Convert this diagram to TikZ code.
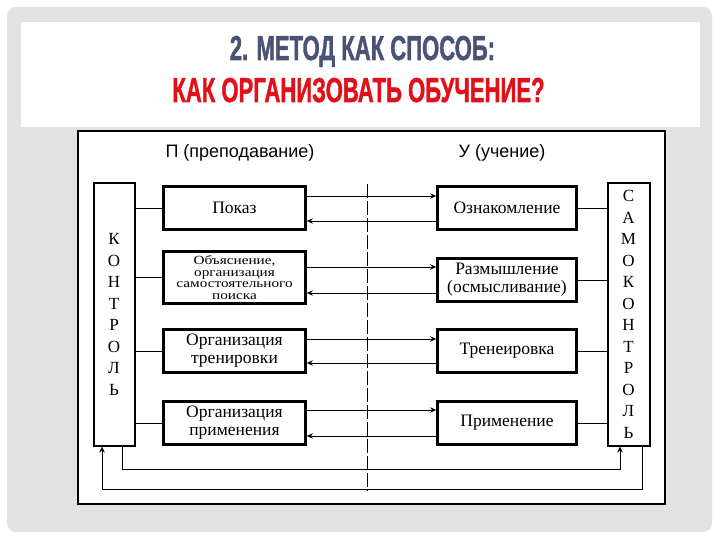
\documentclass[tikz,border=0pt]{standalone}
\usepackage{fontspec}
\setmainfont{Liberation Serif}
\newfontfamily\sansf{Liberation Sans}
\newfontfamily\titlef[BoldFeatures={FakeBold=1.6}]{Liberation Sans}
\newfontfamily\boxsmall[FakeStretch=1.22]{Liberation Serif}
\usetikzlibrary{arrows.meta}
\definecolor{slidegray}{HTML}{E2E2E2}
\definecolor{titleblue}{HTML}{4A5276}
\definecolor{titlered}{HTML}{E3101A}
\tikzset{
  proc/.style={draw, line width=2.8pt, inner sep=0pt, align=center,
    font=\fontsize{17.5}{18}\selectfont},
  lproc/.style={proc, minimum width=142pt, minimum height=43pt},
  rproc/.style={proc, minimum width=139pt, minimum height=43pt},
  ctrl/.style={draw, line width=2pt, inner sep=0pt, align=center,
    minimum height=262pt, font=\fontsize{17}{21.5}\selectfont},
  conn/.style={line width=0.8pt},
  arr/.style={conn, -{Stealth[length=6pt,width=5.5pt,inset=2pt]}},
  head/.style={font=\sansf\fontsize{18}{20}\selectfont, inner sep=0pt},
  ttl/.style={font=\titlef\bfseries\fontsize{32}{32}\selectfont, inner sep=0pt, anchor=base}
}
\begin{document}
\begin{tikzpicture}[x=1pt,y=-1pt]
\useasboundingbox (0,0) rectangle (720,540);
\fill[white] (0,0) rectangle (720,540);
\fill[slidegray, rounded corners=9pt] (7,7) rectangle (712,532);
\fill[white] (21,22) rectangle (700,127);
\draw[line width=2.4pt, fill=white] (78,131) rectangle (665,504);

\node[ttl, text=titleblue] (t1) at (362.5,60) {\scalebox{0.69}[1.08]{2. МЕТОД КАК СПОСОБ:}};
\node[ttl, text=titlered] (t2) at (358.5,102) {\scalebox{0.69}[1.08]{КАК ОРГАНИЗОВАТЬ ОБУЧЕНИЕ?}};

\node[head] (hp) at (240,153) {П (преподавание)};
\node[head] (hu) at (502,153) {У (учение)};

\coordinate (dtop) at (367,184);
\coordinate (dbot) at (367,491);
\draw[conn, dash pattern=on 14pt off 3pt] (dtop) -- (dbot);

\node[ctrl, minimum width=41pt] (KL) at (114,314.5) {К\\О\\Н\\Т\\Р\\О\\Л\\Ь};
\node[ctrl, minimum width=42pt] (KR) at (628.5,314.5) {С\\А\\М\\О\\К\\О\\Н\\Т\\Р\\О\\Л\\Ь};

\node[lproc] (L1) at (234.5,208) {Показ};
\node[lproc, minimum height=52pt, font=\boxsmall\fontsize{12.5}{11.8}\selectfont] (L2) at (234.5,277.5)
  {Объяснение,\\организация\\самостоятельного\\поиска};
\node[lproc] (L3) at (234.5,351) {Организация\\тренировки};
\node[lproc] (L4) at (234.5,423) {Организация\\применения};

\node[rproc] (R1) at (507,208) {Ознакомление};
\node[rproc] (R2) at (507,280) {Размышление\\(осмысливание)};
\node[rproc] (R3) at (507,351) {Тренеировка};
\node[rproc] (R4) at (507,423) {Применение};

% control links
\draw[conn] (KL.east |- L1) -- (L1.west);
\draw[conn] (KL.east |- L2) -- (L2.west);
\draw[conn] (KL.east |- L3) -- (L3.west);
\draw[conn] (KL.east |- L4) -- (L4.west);
\draw[conn] (R1.east) -- (KR.west |- R1);
\draw[conn] (R2.east) -- (KR.west |- R2);
\draw[conn] (R3.east) -- (KR.west |- R3);
\draw[conn] (R4.east) -- (KR.west |- R4);

% forward and backward
\draw[arr] (L1.east |- 0,196) -- (R1.west |- 0,196);
\draw[arr] (R1.west |- 0,221) -- (L1.east |- 0,221);
\draw[arr] (L2.east |- 0,267) -- (R2.west |- 0,267);
\draw[arr] (R2.west |- 0,293) -- (L2.east |- 0,293);
\draw[arr] (L3.east |- 0,339) -- (R3.west |- 0,339);
\draw[arr] (R3.west |- 0,363) -- (L3.east |- 0,363);
\draw[arr] (L4.east |- 0,410) -- (R4.west |- 0,410);
\draw[arr] (R4.west |- 0,436) -- (L4.east |- 0,436);

% feedback loops
\coordinate (kla) at ([xshift=8pt]KL.south);
\coordinate (kra) at ([xshift=-8.5pt]KR.south);
\coordinate (klb) at ([xshift=-12pt]KL.south);
\coordinate (krb) at ([xshift=13.5pt]KR.south);
\draw[arr] (kla) -- (kla |- 0,469) -| (kra);
\draw[arr] (krb) -- (krb |- 0,489) -| (klb);
\end{tikzpicture}
\end{document}
